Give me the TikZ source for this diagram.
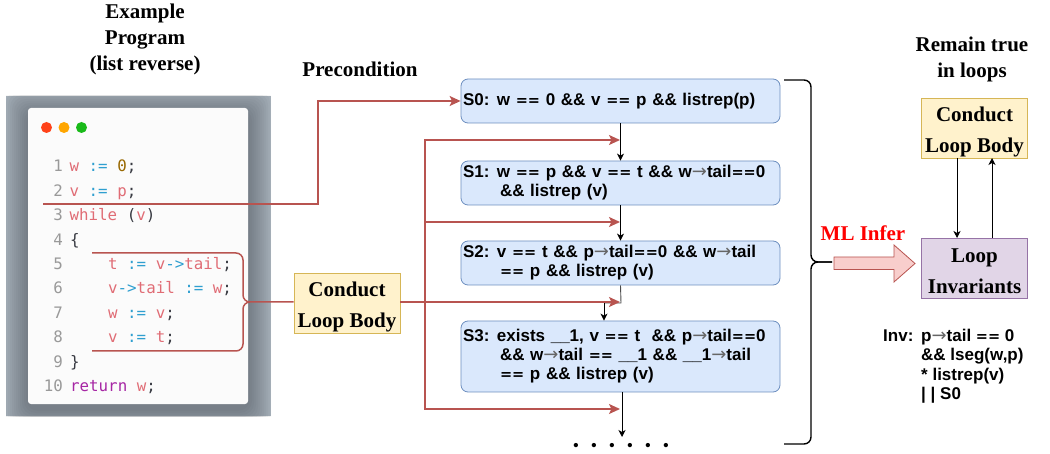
\documentclass[tikz,border=0pt]{standalone}
\usepackage{fontspec}
\setmainfont{Liberation Serif}
\newfontfamily\sansbf{Liberation Sans}
\newfontfamily\arfont{DejaVu Sans}
\newfontfamily\codefont{DejaVu Sans Mono}
\usetikzlibrary{arrows.meta}
\definecolor{rd}{HTML}{B85450}
\definecolor{rdf}{HTML}{F8CECC}
\definecolor{bluef}{HTML}{DAE8FC}
\definecolor{blued}{HTML}{6C8EBF}
\definecolor{yelf}{HTML}{FFF2CC}
\definecolor{yeld}{HTML}{D6B656}
\definecolor{purf}{HTML}{E1D5E7}
\definecolor{purd}{HTML}{9673A6}
\definecolor{cvar}{HTML}{E06C75}
\definecolor{cop}{HTML}{2F9FD0}
\definecolor{cnum}{HTML}{986801}
\definecolor{ckw}{HTML}{A626A4}
\definecolor{cln}{HTML}{999999}
\definecolor{cpn}{HTML}{383A42}
\definecolor{winbg}{HTML}{A9B3BD}
\definecolor{shd}{HTML}{3A4048}
\definecolor{cardc}{HTML}{FBFBFB}
\newcommand{\V}[1]{\textcolor{cvar}{#1}}
\newcommand{\Op}[1]{\textcolor{cop}{#1}}
\newcommand{\Pn}[1]{\textcolor{cpn}{#1}}
\newcommand{\Ar}{{\mdseries\arfont\fontsize{18}{15}\selectfont\color{black!60}→}}
\newcommand{\EE}{{\arfont\bfseries\fontsize{14.5}{15}\selectfont ==}}
\newcommand{\FL}{\rule{0pt}{23pt}}
\newcommand{\GL}{\rule{0pt}{21pt}}
\newcommand{\LG}{\hskip 7.5pt}
\tikzset{
  x=1pt,y=-1pt,
  sbox/.style={draw=blued,fill=bluef,rounded corners=7pt,line width=.8pt,text width=315pt,inner xsep=2pt,inner ysep=0pt,align=left,font=\fontsize{17}{19}\selectfont\sansbf\bfseries},
  ybox/.style={draw=yeld,fill=yelf,line width=.9pt,minimum width=106pt,minimum height=60pt,inner sep=0pt,align=center,font=\fontsize{21}{31}\selectfont\bfseries},
  pbox/.style={ybox,draw=purd,fill=purf},
  title/.style={align=center,inner sep=0pt,font=\fontsize{21}{26}\selectfont\bfseries},
  redl/.style={draw=rd,line width=1.5pt},
  reda/.style={redl,-{Stealth[length=11pt,width=10pt,inset=2.5pt]}},
  blk/.style={draw=black,line width=.9pt,-{Stealth[length=7pt,width=7pt,inset=2pt]}},
  brc/.style={draw=black,line width=1.4pt,rounded corners=7pt},
  ln/.style={anchor=base east,inner sep=0pt,font=\fontsize{15.8}{15}\selectfont\codefont,text=cln},
  cd/.style={anchor=base west,inner sep=0pt,font=\fontsize{15.8}{15}\selectfont\codefont},
}
\begin{document}
\begin{tikzpicture}
\useasboundingbox (0,0) rectangle (1050,454);
% code window
\begin{scope}
\clip (6,96) rectangle (271,416);
\fill[winbg] (6,96) rectangle (271,416);
\foreach \e in {2,4,...,24}{
  \fill[shd,opacity=.045,rounded corners=12pt] (28-\e,108-\e+5) rectangle (248+\e,404+\e+5);
}
\end{scope}
\node[fill=cardc,rounded corners=3pt,minimum width=220pt,minimum height=296pt,inner sep=0pt] (card) at (138,256) {};
\node[circle,fill=red!65!orange!90,minimum size=11pt,inner sep=0pt] (d1) at (46.5,127.5) {};
\node[circle,fill=orange!70!yellow,minimum size=11pt,inner sep=0pt] (d2) at (64,127.5) {};
\node[circle,fill=green!70!black!90,minimum size=11pt,inner sep=0pt] (d3) at (81.5,127.5) {};
\node[ln] (n1) at (63,172) {1};
\node[ln] (n2) at (63,196.5) {2};
\node[ln] (n3) at (63,221) {3};
\node[ln] (n4) at (63,245.5) {4};
\node[ln] (n5) at (63,269.5) {5};
\node[ln] (n6) at (63,294) {6};
\node[ln] (n7) at (63,318.5) {7};
\node[ln] (n8) at (63,342.5) {8};
\node[ln] (n9) at (63,367) {9};
\node[ln] (n10) at (63,391.5) {10};
\node[cd] (c1) at (69.5,172) {\V{w} \Op{:=} \textcolor{cnum}{0}\Pn{;}};
\node[cd] (c2) at (69.5,196.5) {\V{v} \Op{:=} \V{p}\Pn{;}};
\node[cd] (c3) at (69.5,221) {\V{while} \Pn{(}\V{v}\Pn{)}};
\node[cd] (c4) at (70,245.5) {\Pn{\{}};
\node[cd] (c5) at (108,269.5) {\V{t} \Op{:=} \V{v}\Op{->}\V{tail}\Pn{;}};
\node[cd] (c6) at (108,294) {\V{v}\Op{->}\V{tail} \Op{:=} \V{w}\Pn{;}};
\node[cd] (c7) at (108,318.5) {\V{w} \Op{:=} \V{v}\Pn{;}};
\node[cd] (c8) at (108,342.5) {\V{v} \Op{:=} \V{t}\Pn{;}};
\node[cd] (c9) at (70,367) {\Pn{\}}};
\node[cd] (c10) at (70,391.5) {\textcolor{ckw}{return} \V{w}\Pn{;}};
% titles
\node[title] (t1) at (145,39) {Example\\Program\\(list reverse)};
\node[title] (t2) at (360,69) {Precondition};
\node[title] (t3) at (972,59) {Remain true\\in loops};
% state boxes
\node[sbox,minimum height=44pt] (s0) at (620.5,101) {S0:\LG w \EE{} 0 \&\& v \EE{} p \&\& listrep(p)};
\node[sbox,minimum height=44pt] (s1) at (620.5,183) {S1:\LG w \EE{} p \&\& v \EE{} t \&\& w\Ar tail\EE{}0\\\hskip 37pt\&\& listrep (v)};
\node[sbox,minimum height=44pt] (s2) at (620.5,263) {S2:\LG v \EE{} t \&\& p\Ar tail\EE{}0 \&\& w\Ar tail\\\hskip 37pt\EE{} p \&\& listrep (v)};
\node[sbox,minimum height=71pt] (s3) at (620.5,356.5) {S3:\LG exists \_\_1, v \EE{} t\ \ \&\& p\Ar tail\EE{}0\\\hskip 37pt\&\& w\Ar tail \EE{} \_\_1 \&\& \_\_1\Ar tail\\\hskip 37pt\EE{} p \&\& listrep (v)};
% conduct
\node[ybox] (cb) at (347,303) {\FL Conduct\\Loop Body};
\node[ybox] (cb2) at (974.5,128) {\FL Conduct\\Loop Body};
\node[pbox] (li) at (974.5,268) {\GL Loop\\Invariants};
% black connectors
\coordinate (m2) at (604,303);
\coordinate (e3) at (622,437);
\draw[blk] (s0.south) -- (s1.north);
\draw[blk] (s1.south) -- (s2.north);
\draw[draw=black!70,line width=.9pt] (s2.south) -- (621,303) -- (m2);
\draw[blk] (m2) -- (m2 |- s3.north);
\draw[blk] (622,392) -- (e3);
\draw[blk] (957,158) -- (957,238);
\draw[blk] (992,238) -- (992,158);
% red connectors
\coordinate (pre) at (43,204);
\coordinate (a1) at (620,140);
\coordinate (a2) at (620,222);
\coordinate (a3) at (620,302);
\coordinate (a4) at (620,409);
\coordinate (b0) at (425,302);
\draw[reda] (pre) -- (318,204) -- (318,101) -- (s0.west);
\draw[reda] (b0) |- (a1);
\draw[reda] (b0 |- a2) -- (a2);
\draw[reda] (b0) |- (a4);
\draw[reda] (cb.east |- a3) -- (a3);
% red brace
\coordinate (bt) at (92,253);
\coordinate (bb) at (92,351);
\draw[redl,rounded corners=7pt] (bt) -- (243,253) -- (243,302) -- (cb.west |- 0,302);
\draw[redl,rounded corners=7pt] (bb) -- (243,351) -- (243,302) -- (249,302);
% right brace
\coordinate (rt) at (784,80);
\coordinate (rb) at (784,444);
\coordinate (rm) at (832,262);
\draw[brc] (rt) -- (811,80) -- (811,262) -- (rm);
\draw[brc] (rb) -- (811,444) -- (811,262) -- (rm);
% big arrow
\draw[draw=rd,fill=rdf,line width=.8pt] (834,257) -- (894,257) -- (894,245) -- (915,263.5) -- (894,282) -- (894,269.5) -- (834,269.5) -- cycle;
\node[inner sep=0pt,text=red,font=\fontsize{21}{21}\selectfont\bfseries] (mlt) at (863,233) {ML Infer};
% inv
\node[anchor=base west,inner sep=0pt,font=\fontsize{17}{17}\selectfont\sansbf\bfseries] (inv) at (883,341.5) {Inv:};
\node[anchor=base west,inner sep=0pt,align=left,font=\fontsize{17}{19.5}\selectfont\sansbf\bfseries] (invt) at (921,341.5) {p\Ar tail \EE{} 0};
\node[anchor=north west,inner sep=0pt,align=left,font=\fontsize{17}{19.5}\selectfont\sansbf\bfseries] (invu) at (921,348) {\&\& lseg(w,p)\\* listrep(v)\\| | S0};
% dots
\node[anchor=base,inner sep=0pt,font=\fontsize{15}{15}\selectfont\sansbf\bfseries] (dots) at (621,450.5) {•\hskip 12.75pt•\hskip 12.75pt•\hskip 12.75pt•\hskip 12.75pt•\hskip 12.75pt•};
\end{tikzpicture}
\end{document}
